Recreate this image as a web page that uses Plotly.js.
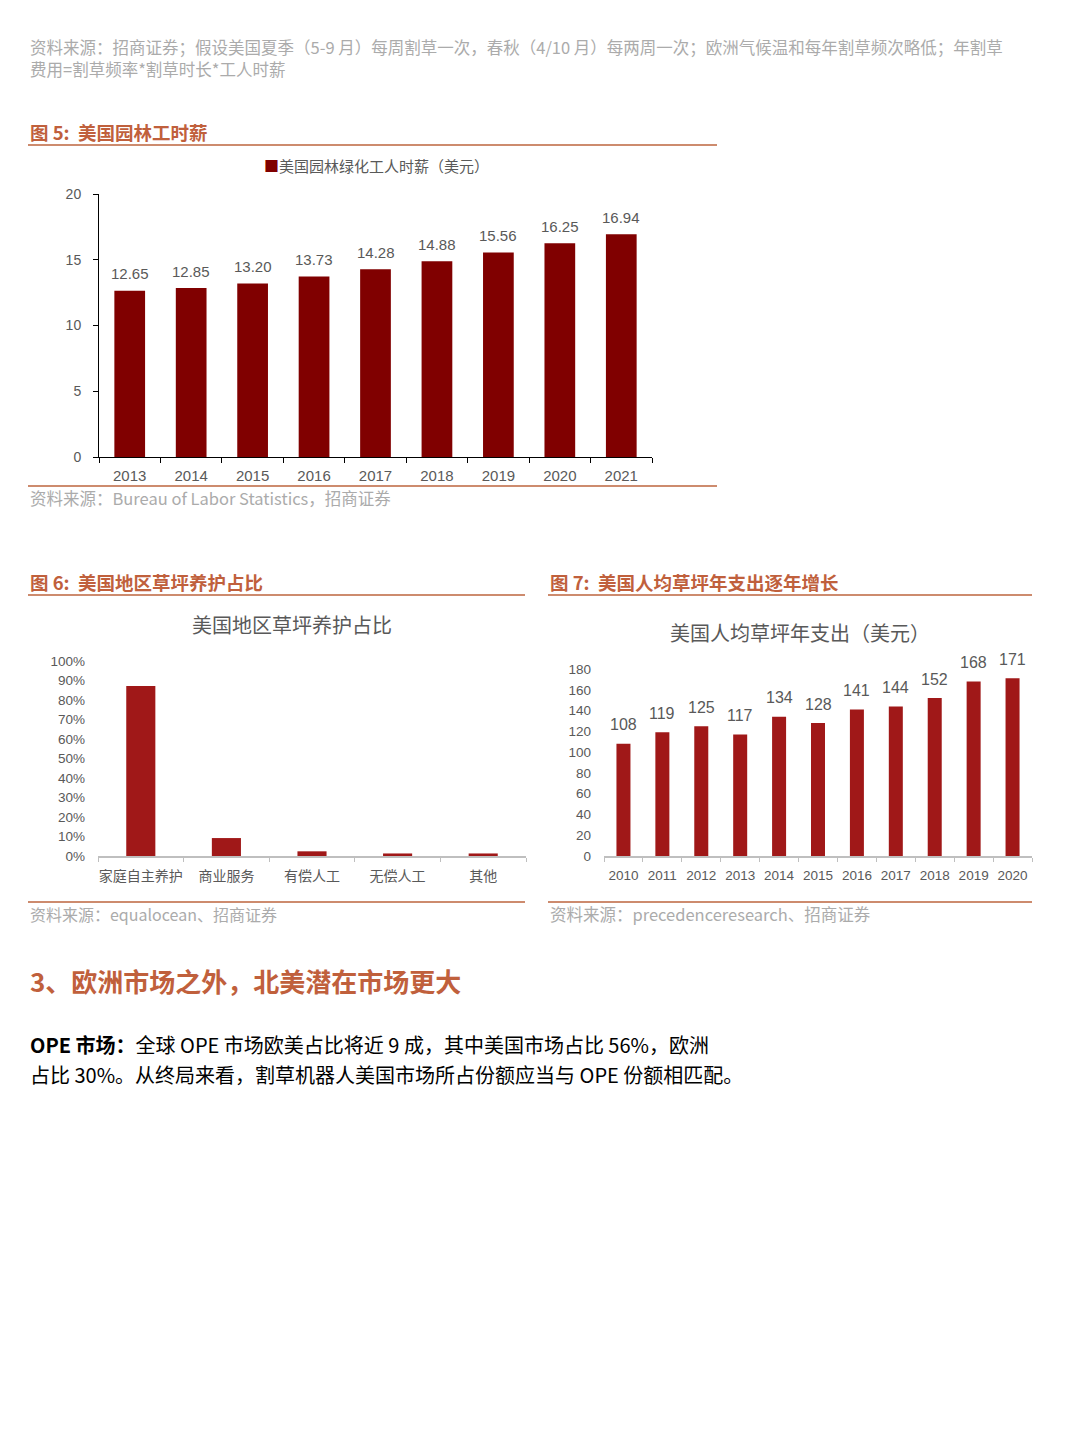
<!DOCTYPE html>
<html>
<head>
<meta charset="utf-8">
<script src="https://cdn.plot.ly/plotly-3.0.1.min.js"></script>
<style>html,body{margin:0;padding:0;background:#fff;}#chart{width:1080px;height:1454px;}</style>
</head>
<body>
<div id="chart"></div>
<script>
// ---- Data ----
const wageYears = ['2013','2014','2015','2016','2017','2018','2019','2020','2021'];
const wageValues = [12.65, 12.85, 13.20, 13.73, 14.28, 14.88, 15.56, 16.25, 16.94];
const wageLabels = ['12.65','12.85','13.20','13.73','14.28','14.88','15.56','16.25','16.94'];

const careCategories = ['家庭自主养护','商业服务','有偿人工','无偿人工','其他'];
const careShares = [0.872, 0.092, 0.024, 0.013, 0.013];

const spendYears = ['2010','2011','2012','2013','2014','2015','2016','2017','2018','2019','2020'];
const spendValues = [108, 119, 125, 117, 134, 128, 141, 144, 152, 168, 171];

// ---- Layout helpers ----
const W = 1080, H = 1454;
const px = x => x / W;
const py = y => 1 - y / H;
const FONT = 'Liberation Sans, Arial, Noto Sans CJK SC, sans-serif';
const CJK = 'Noto Sans CJK SC, Liberation Sans, sans-serif';
const GREY = '#595959';
const LIGHT = '#ababab';
const ORANGE = '#C0603C';
const RULE = '#CD8B6E';

const traces = [
  {
    type: 'bar', x: wageYears, y: wageValues,
    marker: {color: '#800000'}, width: 0.5,
    xaxis: 'x', yaxis: 'y', showlegend: false
  },
  {
    type: 'bar', x: careCategories, y: careShares,
    marker: {color: '#A01818'}, width: 0.34,
    xaxis: 'x2', yaxis: 'y2', showlegend: false
  },
  {
    type: 'bar', x: spendYears, y: spendValues,
    marker: {color: '#A01818'}, width: 0.36,
    xaxis: 'x3', yaxis: 'y3', showlegend: false
  }
];

function ann(text, x, y, opts) {
  return Object.assign({
    text: text, x: px(x), y: py(y), xref: 'paper', yref: 'paper',
    xanchor: 'left', yanchor: 'middle', showarrow: false,
    font: {family: CJK, size: 16.5, color: LIGHT}
  }, opts || {});
}
function rule(x0, x1, y) {
  return {type: 'line', xref: 'paper', yref: 'paper', x0: px(x0), x1: px(x1), y0: py(y), y1: py(y),
          line: {color: RULE, width: 2}};
}

const annotations = [
  ann('资料来源：招商证券；假设美国夏季（5-9 月）每周割草一次，春秋（4/10 月）每两周一次；欧洲气候温和每年割草频次略低；年割草', 28, 47),
  ann('费用=割草频率*割草时长*工人时薪', 28, 69),
  ann('<b>图 5:  美国园林工时薪</b>', 28, 132, {font: {family: CJK, size: 18.5, color: ORANGE}}),
  ann('<span style="color:#800000">■</span>美国园林绿化工人时薪（美元）', 262, 165, {font: {family: CJK, size: 15, color: GREY}}),
  ann('资料来源：Bureau of Labor Statistics，招商证券', 28, 498, {font: {family: CJK, size: 16.5, color: LIGHT}}),
  ann('<b>图 6:  美国地区草坪养护占比</b>', 28, 582, {font: {family: CJK, size: 18.5, color: ORANGE}}),
  ann('美国地区草坪养护占比', 292, 624, {xanchor: 'center', font: {family: CJK, size: 20, color: GREY}}),
  ann('资料来源：equalocean、招商证券', 28, 914, {font: {family: CJK, size: 16, color: LIGHT}}),
  ann('<b>图 7:  美国人均草坪年支出逐年增长</b>', 548, 582, {font: {family: CJK, size: 18.5, color: ORANGE}}),
  ann('美国人均草坪年支出（美元）', 800, 632, {xanchor: 'center', font: {family: CJK, size: 20, color: GREY}}),
  ann('资料来源：precedenceresearch、招商证券', 548, 914, {font: {family: CJK, size: 16.5, color: LIGHT}}),
  ann('<b>3、欧洲市场之外，北美潜在市场更大</b>', 28, 980, {font: {family: CJK, size: 26, color: ORANGE}}),
  ann('<b>OPE 市场：</b>全球 OPE 市场欧美占比将近 9 成，其中美国市场占比 56%，欧洲', 28, 1044, {font: {family: CJK, size: 20, color: '#000'}}),
  ann('占比 30%。从终局来看，割草机器人美国市场所占份额应当与 OPE 份额相匹配。', 28, 1074, {font: {family: CJK, size: 20, color: '#000'}})
];

// data labels placed on the data scales (x = category index)
wageYears.forEach((c, i) => annotations.push({
  x: i, y: wageValues[i], xref: 'x', yref: 'y', text: wageLabels[i], showarrow: false,
  yanchor: 'middle', yshift: 17, font: {family: FONT, size: 15, color: GREY}
}));
spendYears.forEach((c, i) => annotations.push({
  x: i, y: spendValues[i], xref: 'x3', yref: 'y3', text: String(spendValues[i]), showarrow: false,
  yanchor: 'middle', yshift: 19, font: {family: FONT, size: 16, color: GREY}
}));

const shapes = [
  rule(28, 717, 145), rule(28, 717, 486),
  rule(28, 525, 595), rule(28, 525, 902),
  rule(548, 1032, 595), rule(548, 1032, 902)
];

const tickF = (s) => ({family: FONT, size: s, color: GREY});

const layout = {
  width: W, height: H,
  margin: {l: 0, r: 0, t: 0, b: 0},
  paper_bgcolor: '#fff', plot_bgcolor: 'rgba(0,0,0,0)',
  font: {family: FONT, color: GREY},
  showlegend: false,
  xaxis: {
    domain: [px(99), px(652)], anchor: 'y', type: 'category',
    range: [-0.5, wageYears.length - 0.5],
    showline: true, linecolor: '#000', linewidth: 1,
    ticks: 'outside', tickson: 'boundaries', ticklen: 5, tickcolor: '#000',
    tickfont: tickF(15), showgrid: false, zeroline: false, ticklabelstandoff: 5, tickangle: 0
  },
  yaxis: {
    domain: [py(457), py(194)], anchor: 'x', range: [0, 20], dtick: 5,
    showline: true, linecolor: '#000', linewidth: 1,
    ticks: 'outside', ticklen: 5, tickcolor: '#000',
    tickfont: tickF(14), showgrid: false, zeroline: false, ticklabelstandoff: 9
  },
  xaxis2: {
    domain: [px(98), px(526)], anchor: 'y2', type: 'category',
    range: [-0.5, careCategories.length - 0.5],
    showline: true, linecolor: '#bfbfbf', linewidth: 1.5,
    ticks: 'outside', tickson: 'boundaries', ticklen: 4, tickcolor: '#bfbfbf',
    tickfont: tickF(14), showgrid: false, zeroline: false, tickangle: 0, ticklabelstandoff: 7
  },
  yaxis2: {
    domain: [py(856), py(661)], anchor: 'x2', range: [0, 1], dtick: 0.1, tickformat: '.0%',
    showline: false, ticks: '', tickfont: tickF(13.5), showgrid: false, zeroline: false,
    ticklabelstandoff: 12
  },
  xaxis3: {
    domain: [px(604), px(1032)], anchor: 'y3', type: 'category',
    range: [-0.5, spendYears.length - 0.5],
    showline: true, linecolor: '#bfbfbf', linewidth: 1.5,
    ticks: 'outside', tickson: 'boundaries', ticklen: 4, tickcolor: '#bfbfbf',
    tickfont: tickF(13.5), showgrid: false, zeroline: false, tickangle: 0, ticklabelstandoff: 6
  },
  yaxis3: {
    domain: [py(856), py(669)], anchor: 'x3', range: [0, 180], dtick: 20,
    showline: false, ticks: '', tickfont: tickF(13.5), showgrid: false, zeroline: false,
    ticklabelstandoff: 12
  },
  annotations: annotations,
  shapes: shapes
};

Plotly.newPlot('chart', traces, layout, {displayModeBar: false, staticPlot: true});
</script>
</body>
</html>
